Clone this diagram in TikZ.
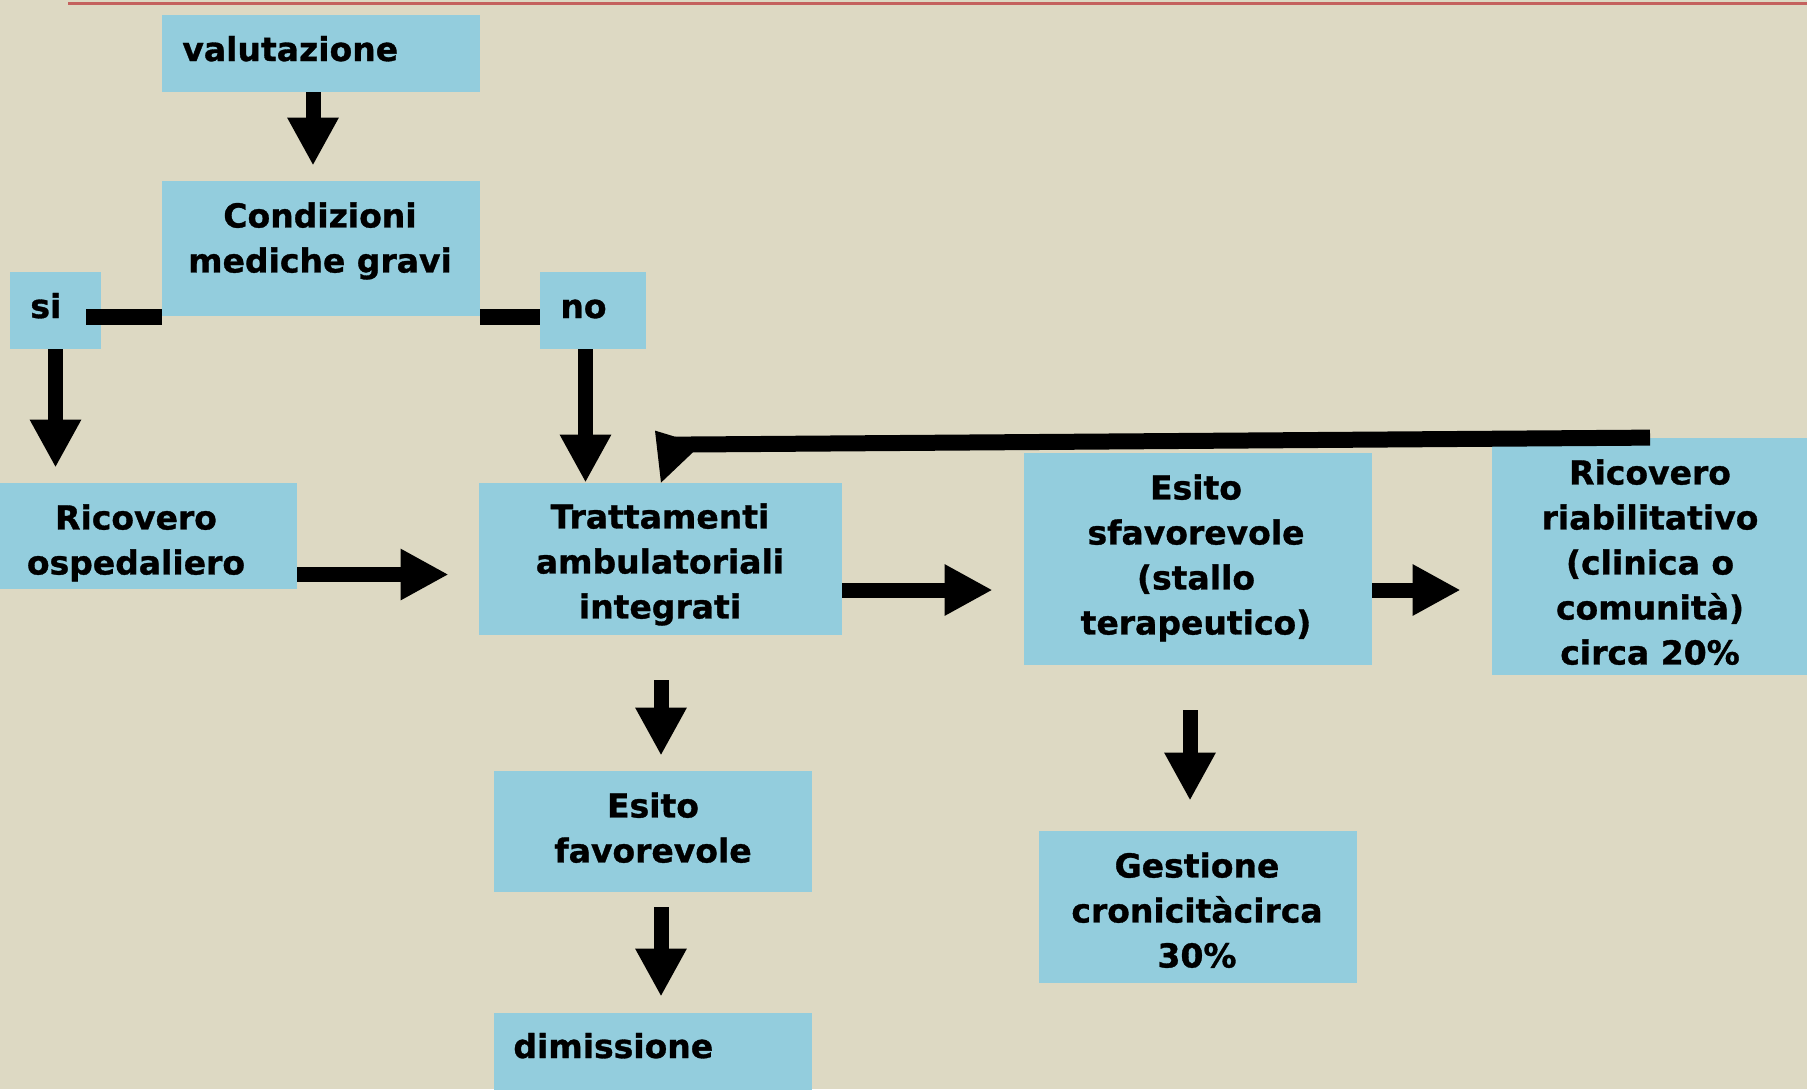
\documentclass[tikz,border=0pt]{standalone}
\usepackage{fontspec}
\setmainfont{DejaVu Sans}[BoldFeatures={FakeBold=1}]
\usetikzlibrary{arrows.meta,calc}
\definecolor{bgc}{HTML}{DDD9C3}
\definecolor{boxc}{HTML}{93CDDD}
\definecolor{redl}{RGB}{196,98,94}
\begin{document}
\begin{tikzpicture}[x=0.5pt,y=-0.5pt,
  box/.style={rectangle,fill=boxc,draw=none,inner sep=0pt},
  txt/.style={inner sep=0pt,align=center,font=\bfseries\fontsize{16.5}{22.5}\selectfont},
  arr/.style={line width=7.5pt,-{Triangle[width=24pt,length=24pt]}},
  bar/.style={line width=8pt}]
\fill[bgc] (0,0) rectangle (1807,1089);
\useasboundingbox (0,0) rectangle (1807,1089);
\draw[redl,line width=1.3pt] (68,3.7) -- (1807,3.7);

% boxes
\node[box,minimum width=159pt,minimum height=38.5pt] (val) at (321,53.5) {};
\node[box,minimum width=159pt,minimum height=67.5pt] (cond) at (321,248.5) {};
\node[box,minimum width=45.5pt,minimum height=38.5pt] (si) at (55.5,310.5) {};
\node[box,minimum width=53pt,minimum height=38.5pt] (no) at (593,310.5) {};
\node[box,minimum width=148.5pt,minimum height=53pt] (ro) at (148.5,536) {};
\node[box,minimum width=181.5pt,minimum height=76pt] (tr) at (660.5,559) {};
\node[box,minimum width=174pt,minimum height=106pt] (es) at (1198,559) {};
\node[box,minimum width=158pt,minimum height=118.5pt] (rr) at (1650,556.5) {};
\node[box,minimum width=159pt,minimum height=60.5pt] (ef) at (653,831.5) {};
\node[box,minimum width=159pt,minimum height=41pt] (dim) at (653,1054) {};
\node[box,minimum width=159pt,minimum height=76pt] (ge) at (1198,907) {};

% texts
\node[txt,anchor=base west] (valT) at (182,61) {valutazione};
\node[txt,anchor=north] (condT) at (320,202) {Condizioni\\mediche gravi};
\node[txt,anchor=base west] (siT) at (30,318) {si};
\node[txt,anchor=base west] (noT) at (560,318) {no};
\node[txt,anchor=north] (roT) at (136,504) {Ricovero\\ospedaliero};
\node[txt,anchor=north] (trT) at (660,503) {Trattamenti\\ambulatoriali\\integrati};
\node[txt,anchor=north] (esT) at (1196,474) {Esito\\sfavorevole\\(stallo\\terapeutico)};
\node[txt,anchor=north] (rrT) at (1650,459) {Ricovero\\riabilitativo\\(clinica o\\comunità)\\circa 20\%};
\node[txt,anchor=north] (efT) at (653,792) {Esito\\favorevole};
\node[txt,anchor=base west] (dimT) at (513,1058) {dimissione};
\node[txt,anchor=north] (geT) at (1197,852) {Gestione\\cronicitàcirca\\30\%};

% connectors
\draw[arr] ($(val.south)+(-8,0)$) -- ($(cond.north)+(-8,-15)$);
\coordinate (siL) at ($(si.east)+(-15,6.5)$);
\draw[bar] (siL) -- (siL -| cond.west);
\coordinate (noL) at ($(no.west)+(0,6.5)$);
\draw[bar] (noL -| cond.east) -- (noL);
\draw[arr] (si.south) -- ($(si.south |- ro.north)+(0,-15)$);
\draw[arr] ($(no.south)+(-7.5,0)$) -- ($(no.south |- tr.north)+(-7.5,0)$);
\draw[arr] ($(ro.east)+(0,38.5)$) -- ($(tr.west)+(-30,15.5)$);
\draw[arr] ($(tr.east)+(0,31)$) -- ($(es.west)+(-31,31)$);
\draw[arr] ($(es.east)+(0,31)$) -- ($(rr.west)+(-31,33.5)$);
\draw[arr] ($(tr.south)+(0.5,45)$) -- ($(ef.north)+(8,-15)$);
\draw[arr] ($(ef.south)+(8,15)$) -- ($(dim.north)+(8,-16)$);
\draw[arr] ($(es.south)+(-8,45)$) -- ($(ge.north)+(-8,-30)$);
% feedback arrow
\coordinate (fbtip) at ($(tr.north)+(0.5,0)$);
\draw[bar] (rr.north) -- ($(fbtip)+(14,-38)$);
\fill ($(fbtip)+(-6,-52)$) -- ($(fbtip)+(40,-38)$) -- (fbtip) -- cycle;
\end{tikzpicture}
\end{document}
